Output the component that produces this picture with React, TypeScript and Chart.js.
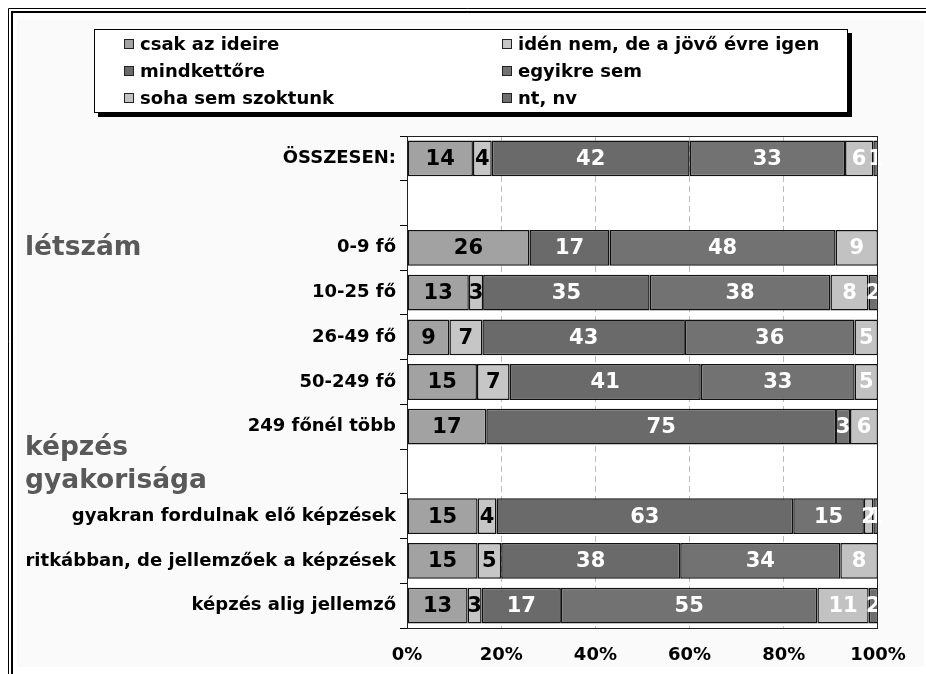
import React, { useEffect, useRef } from 'react';
import { Chart, registerables } from 'chart.js';

Chart.register(...registerables);

const categories = [
  'ÖSSZESEN:',
  ' ',
  '0-9 fő',
  '10-25 fő',
  '26-49 fő',
  '50-249 fő',
  '249 főnél több',
  '  ',
  'gyakran fordulnak elő képzések',
  'ritkábban, de jellemzőek a képzések',
  'képzés alig jellemző',
];

const seriesNames = [
  'csak az ideire',
  'idén nem, de a jövő évre igen',
  'mindkettőre',
  'egyikre sem',
  'soha sem szoktunk',
  'nt, nv',
];

const csakAzIdeire = [14, null, 26, 13, 9, 15, 17, null, 15, 15, 13];
const idenNemJovore = [4, null, 0, 3, 7, 7, 0, null, 4, 5, 3];
const mindkettore = [42, null, 17, 35, 43, 41, 75, null, 63, 38, 17];
const egyikreSem = [33, null, 48, 38, 36, 33, 3, null, 15, 34, 55];
const sohaSemSzoktunk = [6, null, 9, 8, 5, 5, 6, null, 2, 8, 11];
const ntNv = [1, null, 0, 2, 0, 0, 0, null, 1, 0, 2];

const xTicks = [0, 20, 40, 60, 80, 100];
const groupLabels = ['létszám', 'képzés', 'gyakorisága'];

const seriesColors = ['#a2a2a2', '#c6c6c6', '#6a6a6a', '#727272', '#c2c2c2', '#6e6e6e'];
const labelColors = ['#000000', '#000000', '#ffffff', '#ffffff', '#ffffff', '#ffffff'];

const FONT = '"DejaVu Sans", Verdana, sans-serif';

export default function App() {
  const ref = useRef<HTMLCanvasElement | null>(null);

  useEffect(() => {
    const canvas = ref.current;
    if (!canvas) return;

    const raw = [csakAzIdeire, idenNemJovore, mindkettore, egyikreSem, sohaSemSzoktunk, ntNv];
    const totals = categories.map((_, i) =>
      raw.reduce((s, arr) => s + (arr[i] == null ? 0 : (arr[i] as number)), 0)
    );
    const datasets = raw.map((arr, k) => ({
      label: seriesNames[k],
      data: arr.map((v, i) => (v == null || totals[i] === 0 ? null : (v / totals[i]) * 100)),
      rawValues: arr,
      backgroundColor: seriesColors[k],
      borderColor: '#111111',
      borderWidth: 1.5,
      borderSkipped: false,
      categoryPercentage: 0.8,
      barPercentage: 1.0,
    }));

    const framePlugin = {
      id: 'frame',
      beforeDraw(chart: any) {
        const { ctx, width, height, chartArea } = chart;
        ctx.save();
        ctx.fillStyle = '#ffffff';
        ctx.fillRect(0, 0, width, height);
        ctx.fillStyle = '#fafafa';
        ctx.fillRect(17, 20, 907, 647);
        ctx.strokeStyle = '#000';
        ctx.lineWidth = 1;
        ctx.beginPath();
        ctx.moveTo(8.5, height);
        ctx.lineTo(8.5, 8.5);
        ctx.lineTo(width, 8.5);
        ctx.stroke();
        ctx.lineWidth = 2;
        ctx.beginPath();
        ctx.moveTo(12, height);
        ctx.lineTo(12, 12);
        ctx.lineTo(width, 12);
        ctx.stroke();
        ctx.fillStyle = '#ffffff';
        ctx.fillRect(chartArea.left, chartArea.top, chartArea.right - chartArea.left, chartArea.bottom - chartArea.top);
        ctx.restore();
      },
      afterDatasetsDraw(chart: any) {
        const { ctx, chartArea } = chart;
        ctx.save();
        // value labels
        ctx.font = 'bold 21px ' + FONT;
        ctx.textAlign = 'center';
        ctx.textBaseline = 'middle';
        chart.data.datasets.forEach((ds: any, k: number) => {
          const meta = chart.getDatasetMeta(k);
          meta.data.forEach((el: any, i: number) => {
            const v = ds.rawValues[i];
            if (v == null || v === 0) return;
            const p = el.getProps(['x', 'y', 'base'], true);
            ctx.fillStyle = labelColors[k];
            ctx.fillText(String(v), (p.x + p.base) / 2, p.y + 1);
          });
        });
        // plot border
        ctx.strokeStyle = '#222';
        ctx.lineWidth = 1;
        ctx.strokeRect(
          Math.round(chartArea.left) + 0.5,
          Math.round(chartArea.top) + 0.5,
          Math.round(chartArea.right - chartArea.left) - 1,
          Math.round(chartArea.bottom - chartArea.top)
        );
        ctx.restore();
      },
      afterDraw(chart: any) {
        const { ctx } = chart;
        ctx.save();
        // legend box
        ctx.fillStyle = '#000';
        ctx.fillRect(98, 33, 754, 84);
        ctx.fillStyle = '#fff';
        ctx.fillRect(94, 29, 754, 84);
        ctx.strokeStyle = '#000';
        ctx.lineWidth = 1;
        ctx.strokeRect(94.5, 29.5, 753, 83);
        ctx.font = 'bold 18px ' + FONT;
        ctx.textAlign = 'left';
        ctx.textBaseline = 'middle';
        chart.data.datasets.forEach((ds: any, k: number) => {
          const col = k % 2;
          const row = Math.floor(k / 2);
          const sx = col === 0 ? 124 : 502;
          const cy = 44 + row * 27;
          ctx.fillStyle = ds.backgroundColor;
          ctx.fillRect(sx, cy - 5, 10, 10);
          ctx.strokeStyle = '#222';
          ctx.strokeRect(sx + 0.5, cy - 4.5, 9, 9);
          ctx.fillStyle = '#000';
          ctx.fillText(ds.label, sx + 16, cy + 1);
        });
        // group labels
        ctx.font = 'bold 26.5px ' + FONT;
        ctx.fillStyle = '#595959';
        ctx.textBaseline = 'alphabetic';
        ctx.fillText(groupLabels[0], 25, 255);
        ctx.fillText(groupLabels[1], 25, 455);
        ctx.fillText(groupLabels[2], 25, 488);
        ctx.restore();
      },
    };

    const chart = new Chart(canvas, {
      type: 'bar',
      data: { labels: categories, datasets: datasets as any },
      options: {
        indexAxis: 'y',
        animation: false,
        responsive: false,
        maintainAspectRatio: false,
        layout: { padding: { top: 136, right: 48, bottom: 0, left: 0 } },
        plugins: {
          legend: { display: false },
          tooltip: { enabled: false },
          title: { display: false },
        },
        scales: {
          x: {
            type: 'linear',
            stacked: true,
            min: 0,
            max: 100,
            afterBuildTicks: (s: any) => {
              s.ticks = xTicks.map((v) => ({ value: v }));
            },
            afterFit: (s: any) => {
              s.height = 46;
            },
            ticks: {
              callback: (v: any) => v + '%',
              font: { family: FONT, size: 18, weight: 'bold' },
              color: '#000',
              padding: 17,
              maxRotation: 0,
              autoSkip: false,
            },
            grid: {
              drawTicks: false,
              color: (c: any) =>
                c.tick && c.tick.value > 0 && c.tick.value < 100 ? '#bdbdbd' : 'rgba(0,0,0,0)',
              lineWidth: 1,
            },
            border: { display: false, dash: [6, 4] },
          },
          y: {
            type: 'category',
            stacked: true,
            afterFit: (s: any) => {
              s.width = 407;
            },
            ticks: {
              font: { family: FONT, size: 18, weight: 'bold' },
              color: '#000',
              padding: 4,
              autoSkip: false,
            },
            grid: {
              offset: true,
              drawOnChartArea: false,
              drawTicks: true,
              tickLength: 7,
              color: '#000',
            },
            border: { display: true, color: '#000', width: 1 },
          },
        },
      },
      plugins: [framePlugin],
    } as any);

    return () => chart.destroy();
  }, []);

  return (
    <div style={{ position: 'absolute', left: 0, top: 0, width: 926, height: 674 }}>
      <canvas ref={ref} width={926} height={674} style={{ width: 926, height: 674, display: 'block' }} />
    </div>
  );
}
